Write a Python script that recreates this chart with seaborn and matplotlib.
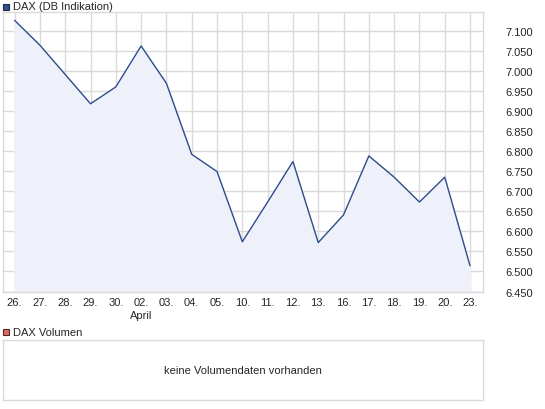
import numpy as np
import pandas as pd
import matplotlib
matplotlib.use("Agg")
import matplotlib.pyplot as plt
import seaborn as sns

# --- Daten ---
tage = ["26.", "27.", "28.", "29.", "30.", "02.", "03.", "04.", "05.", "10.",
        "11.", "12.", "13.", "16.", "17.", "18.", "19.", "20.", "23."]
dax_kurs = [7126, 7064, 6991, 6918, 6960, 7062, 6969, 6792, 6749, 6574,
            6673, 6774, 6572, 6641, 6788, 6735, 6673, 6735, 6514]
y_ticks = [6450, 6500, 6550, 6600, 6650, 6700, 6750, 6800, 6850, 6900,
           6950, 7000, 7050, 7100]
monat_label = "April"
monat_index = 5

LINIE = "#2f4d8c"
FLAECHE = "#eef1f9"
GITTER = "#dadada"

sns.set_style("white")
plt.rcParams["font.family"] = ["Liberation Sans", "DejaVu Sans"]

df = pd.DataFrame({"pos": np.arange(len(tage)), "kurs": dax_kurs})

fig = plt.figure(figsize=(5.45, 4.10), dpi=100)
ax = fig.add_axes([2.7 / 545, 1 - 292.5 / 410, 480 / 545, 279.2 / 410])

ax.fill_between(df["pos"], df["kurs"], 6450, color=FLAECHE, zorder=1)
sns.lineplot(data=df, x="pos", y="kurs", ax=ax, color=LINIE, linewidth=1.0, zorder=3)

ax.set_xlim(-0.47, 18.5)
ax.set_ylim(6450, 7146)
ax.set_xticks(df["pos"])
ax.set_xticklabels(tage, fontsize=8)
ax.set_yticks(y_ticks)
ax.set_yticklabels([f"{v:,}".replace(",", ".") for v in y_ticks], fontsize=8)
ax.yaxis.tick_right()
ax.tick_params(axis="both", length=0, pad=4)
ax.tick_params(axis="y", pad=16)
for lab in ax.get_yticklabels():
    lab.set_horizontalalignment("left")
ax.grid(True, color=GITTER, linewidth=1.0, zorder=0)
ax.set_axisbelow(True)
ax.set_xlabel("")
ax.set_ylabel("")
for s in ax.spines.values():
    s.set_color(GITTER)
    s.set_linewidth(1.0)

# Monatsbeschriftung unter dem 02.
ax.annotate(monat_label, xy=(monat_index, 0), xycoords=("data", "axes fraction"),
            xytext=(0, -13.5), textcoords="offset points", ha="center", va="top",
            fontsize=8)

# Legende oben
fig.patches.append(plt.Rectangle((3 / 545, 1 - 11 / 410), 6 / 545, 6 / 410,
                                 transform=fig.transFigure, facecolor="#33508c",
                                 edgecolor="#1c2c50", linewidth=0.8))
fig.text(13 / 545, 1 - 7.5 / 410, "DAX (DB Indikation)", fontsize=8, va="center")

# Volumen-Bereich
fig.patches.append(plt.Rectangle((3 / 545, 1 - 336 / 410), 6 / 545, 6 / 410,
                                 transform=fig.transFigure, facecolor="#d46a6a",
                                 edgecolor="#5a2a2a", linewidth=0.8))
fig.text(13 / 545, 1 - 332.5 / 410, "DAX Volumen", fontsize=8, va="center")

ax2 = fig.add_axes([2.7 / 545, 1 - 401 / 410, 480 / 545, 59.7 / 410])
ax2.set_xticks([])
ax2.set_yticks([])
for s in ax2.spines.values():
    s.set_color(GITTER)
    s.set_linewidth(1.0)
ax2.text(0.5, 0.5, "keine Volumendaten vorhanden", transform=ax2.transAxes,
         ha="center", va="center", fontsize=8)

fig.savefig("out.png", dpi=100)
